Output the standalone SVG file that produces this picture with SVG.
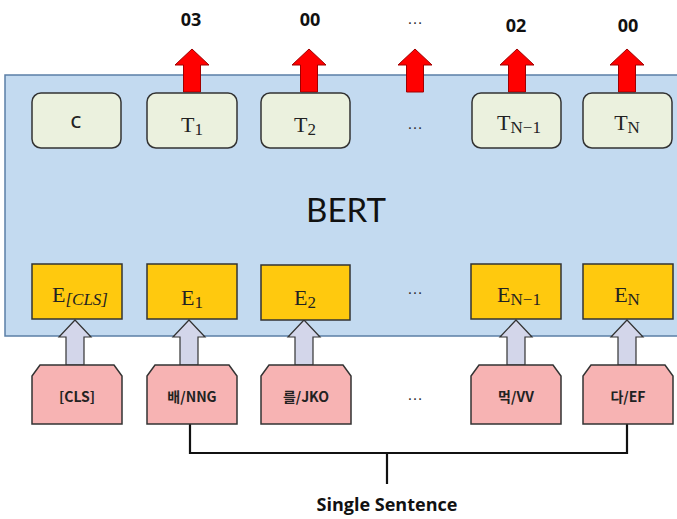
<svg xmlns="http://www.w3.org/2000/svg" width="677" height="519" viewBox="0 0 677 519">
<defs>
<style>
.t{fill:#EBF1DE;stroke:#333;stroke-width:1.5}
.e{fill:#FFC90E;stroke:#333;stroke-width:1.5}
.p{fill:#F7B3B3;stroke:#333;stroke-width:1.5}
.m{font-family:"Liberation Serif","DejaVu Serif",serif;font-size:22px;fill:#222;text-anchor:middle}
.sub{font-size:17px}
.k{font-family:"Noto Sans CJK KR","Open Sans",sans-serif;font-size:14px;font-weight:bold;fill:#222;text-anchor:middle}
.lab{font-family:"Open Sans","Noto Sans",sans-serif;font-size:18px;font-weight:bold;fill:#111;text-anchor:middle}
.dots{font-family:"Liberation Sans",sans-serif;font-size:16px;fill:#333;text-anchor:middle}
.ra{fill:#FF0000;stroke:#A00000;stroke-width:1}
.ga{fill:#D3D6EA;stroke:#333;stroke-width:1.2}
</style>
<path id="redArrow" d="M0,0 L17,16 L8.5,16 L8.5,43 L-8.5,43 L-8.5,16 L-17,16 Z"/>
<path id="grayArrow" d="M0,0 L16,17 L9,17 L9,45 L-9,45 L-9,17 L-16,17 Z"/>
<path id="snip" d="M8,0 L82,0 L90,11 L90,59 L0,59 L0,11 Z"/>
</defs>
<rect width="677" height="519" fill="#fff"/>
<rect id="bert" x="5" y="75" width="678" height="261" fill="#C3DAF0" stroke="#5B7FA6" stroke-width="1.5"/>
<text x="346" y="222" font-family="Lato,'Open Sans',sans-serif" font-size="33" fill="#111" text-anchor="middle">BERT</text>

<g id="outputs">
<text class="lab" x="191" y="26">03</text>
<text class="lab" x="310" y="26">00</text>
<text class="dots" x="415" y="24">…</text>
<text class="lab" x="516" y="32">02</text>
<text class="lab" x="628" y="32">00</text>
</g>

<g id="connectors">
<use href="#redArrow" class="ra" x="192" y="49"/>
<use href="#redArrow" class="ra" x="309" y="49"/>
<use href="#redArrow" class="ra" x="415" y="49"/>
<use href="#redArrow" class="ra" x="517" y="49"/>
<use href="#redArrow" class="ra" x="627" y="49"/>
<use href="#grayArrow" class="ga" x="75" y="320"/>
<use href="#grayArrow" class="ga" x="189" y="320"/>
<use href="#grayArrow" class="ga" x="304" y="320"/>
<use href="#grayArrow" class="ga" x="516" y="320"/>
<use href="#grayArrow" class="ga" x="627" y="320"/>
<path d="M190,424 V453 H627 V424 M387,453 V484" fill="none" stroke="#111" stroke-width="2.2"/>
</g>

<g id="C"><rect class="t" x="32" y="93" width="89" height="55" rx="9"/><text x="76" y="128" font-family="'Open Sans',sans-serif" font-size="17" font-weight="600" fill="#222" text-anchor="middle">C</text></g>
<g id="T1"><rect class="t" x="147" y="93" width="90" height="55" rx="9"/><text class="m" x="192" y="132">T<tspan class="sub" dy="3">1</tspan></text></g>
<g id="T2"><rect class="t" x="261" y="93" width="89" height="55" rx="9"/><text class="m" x="305" y="132">T<tspan class="sub" dy="3">2</tspan></text></g>
<text class="dots" x="415" y="129">…</text>
<g id="TN-1"><rect class="t" x="472" y="93" width="89" height="55" rx="9"/><text class="m" x="519" y="130" font-size="19">T<tspan class="sub" dy="3" font-size="16">N−1</tspan></text></g>
<g id="TN"><rect class="t" x="583" y="93" width="89" height="55" rx="9"/><text class="m" x="627" y="130" font-size="19">T<tspan class="sub" dy="3" font-size="16">N</tspan></text></g>

<g id="ECLS"><rect class="e" x="32" y="264" width="90" height="55"/><text class="m" x="80" y="302" font-size="21">E<tspan class="sub" dy="3" font-style="italic" font-size="15">[CLS]</tspan></text></g>
<g id="E1"><rect class="e" x="147" y="264" width="90" height="55"/><text class="m" x="192" y="305" font-size="23">E<tspan class="sub" dy="3" font-size="18">1</tspan></text></g>
<g id="E2"><rect class="e" x="261" y="265" width="89" height="55"/><text class="m" x="305" y="305" font-size="23">E<tspan class="sub" dy="3" font-size="18">2</tspan></text></g>
<text class="dots" x="415" y="294">…</text>
<g id="EN-1"><rect class="e" x="471" y="264" width="90" height="55"/><text class="m" x="519" y="302" font-size="20">E<tspan class="sub" dy="3" font-size="16">N−1</tspan></text></g>
<g id="EN"><rect class="e" x="583" y="264" width="90" height="55"/><text class="m" x="627" y="302" font-size="20">E<tspan class="sub" dy="3" font-size="16">N</tspan></text></g>

<g id="tok-CLS"><use href="#snip" class="p" x="32" y="365"/><text class="k" x="77" y="402">[CLS]</text></g>
<g id="tok-1"><use href="#snip" class="p" x="147" y="365"/><text class="k" x="192" y="402">배/NNG</text></g>
<g id="tok-2"><use href="#snip" class="p" x="261" y="365"/><text class="k" x="306" y="402">를/JKO</text></g>
<text class="dots" x="415" y="400">…</text>
<g id="tok-N-1"><use href="#snip" class="p" x="471" y="365"/><text class="k" x="516" y="402">먹/VV</text></g>
<g id="tok-N"><use href="#snip" class="p" x="583" y="365"/><text class="k" x="628" y="402">다/EF</text></g>

<text id="sentence" class="lab" x="387" y="511" font-size="17" font-weight="600">Single Sentence</text>
</svg>
